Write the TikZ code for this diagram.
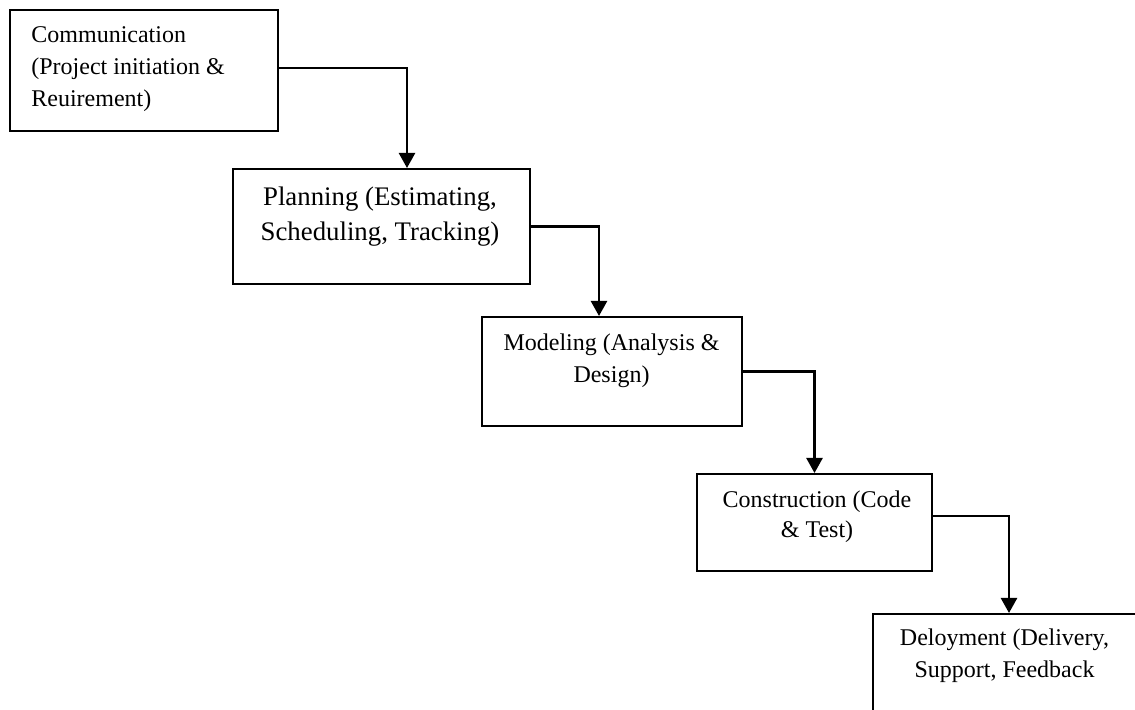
\documentclass[tikz,border=0pt]{standalone}
\usepackage{fontspec}
\setmainfont{Liberation Serif}
\usepackage{tikz}
\usetikzlibrary{positioning,calc,arrows.meta}

\begin{document}
\begin{tikzpicture}[x=0.5pt, y=-0.5pt,
    stage/.style={draw, line width=1pt, inner sep=0pt},
    txt/.style={inner sep=0pt, font=\fontsize{12}{16}\selectfont},
    flow/.style={line width=1.2pt, -{Triangle[length=7.5pt, width=8pt]}}]
    % Page
    \fill [white] (0, 0) rectangle (1135, 710);
    \clip (0, 0) rectangle (1135, 710);

    % Stages
    \node [stage, minimum width=134pt, minimum height=60.5pt] (comm) at (144, 70.5) {};
    \node [stage, minimum width=148.5pt, minimum height=57.5pt] (plan) at (381.5, 226.5) {};
    \node [stage, minimum width=130pt, minimum height=54.5pt] (model) at (612, 371.5) {};
    \node [stage, minimum width=117.5pt, minimum height=48.5pt] (constr) at (814.5, 522.5) {};
    \node [stage, minimum width=136pt, minimum height=58pt] (deploy) at (1009, 672) {};

    % Labels
    \node [txt, anchor=north west, align=left] (commtxt) at (31, 26.5)
        {Communication\\(Project initiation \&\\Reuirement)};
    \node [txt, anchor=north, align=center, font=\fontsize{13.4}{17.5}\selectfont] (plantxt) at (380, 186.5)
        {Planning (Estimating,\\Scheduling, Tracking)};
    \node [txt, anchor=north, align=center] (modeltxt) at (611.5, 333.5)
        {Modeling (Analysis \&\\Design)};
    \node [txt, anchor=north, align=center, font=\fontsize{12}{15}\selectfont] (constrtxt) at (817, 490.5)
        {Construction (Code\\\& Test)};
    \node [txt, anchor=north, align=center] (deploytxt) at (1004.5, 628.5)
        {Deloyment (Delivery,\\Support, Feedback};

    % Flow
    \draw [flow] ([yshift=1.25pt]comm.east) -| ([xshift=12.75pt]plan.north);
    \draw [flow] (plan.east) -| ([xshift=-6.5pt]model.north);
    \draw [flow] (model.east) -| (constr.north);
    \draw [flow] ([yshift=3.25pt]constr.east) -| (deploy.north);
\end{tikzpicture}
\end{document}
